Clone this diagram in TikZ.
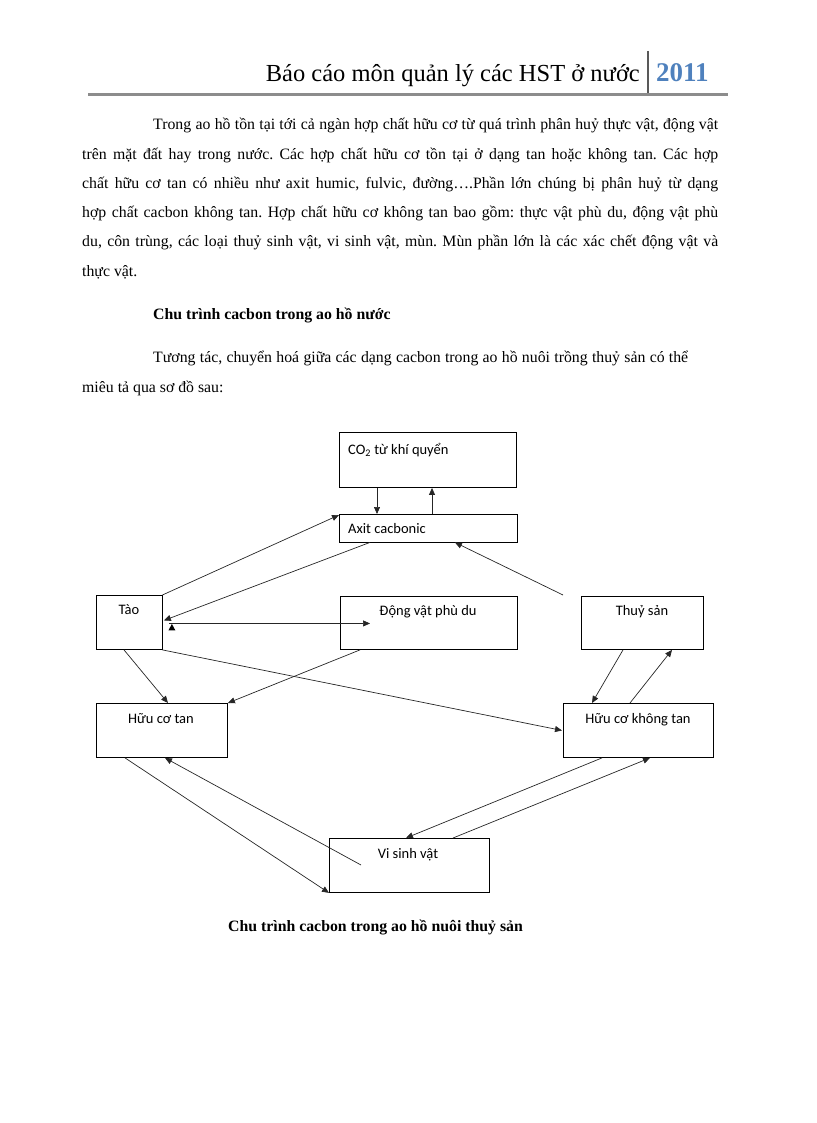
\documentclass[tikz,border=0pt]{standalone}
\usepackage{fontspec}
\setmainfont{Liberation Serif}
\newfontfamily\boxfont{Carlito}
\usetikzlibrary{arrows.meta,calc}
\definecolor{hdrblue}{HTML}{4F81BD}
\definecolor{rulegray}{HTML}{8C8C8C}
\frenchspacing
\begin{document}
\begin{tikzpicture}[x=1pt,y=-1pt,
  box/.style={draw=black,line width=0.9pt,inner sep=0pt,anchor=north west},
  boxtxt/.style={font=\boxfont\fontsize{14.5}{17}\selectfont,inner sep=0pt,anchor=base},
  bodyline/.style={font=\fontsize{15.8}{18}\selectfont,inner sep=0pt,anchor=base west},
  conn/.style={draw=black!85,line width=0.7pt},
  arr/.style={conn,-{Triangle[length=7pt,width=6pt]}}]
\useasboundingbox (0,0) rectangle (816,1123);
% header
\node[inner sep=0pt,anchor=base east,font=\fontsize{24.5}{28}\selectfont] (hdr) at (640,82) {Báo cáo môn quản lý các HST ở nước};
\node[inner sep=0pt,anchor=base west,font=\fontsize{27}{30}\selectfont\bfseries,text=hdrblue] (year) at (656,82) {2011};
\coordinate (barT) at (648,51);
\coordinate (barB) at (648,93);
\draw[line width=1.6pt,black!65] (barT) -- (barB);
\coordinate (ruleL) at (88,94.5);
\coordinate (ruleR) at (728,94.5);
\draw[line width=3pt,rulegray] (ruleL) -- (ruleR);
% paragraph
\node[bodyline] (p1) at (153,130) {\hbox to 565pt{Trong ao hồ tồn tại tới cả ngàn hợp chất hữu cơ từ quá trình phân huỷ thực vật, động vật}};
\node[bodyline] (p2) at (82,159.5) {\hbox to 636pt{trên mặt đất hay trong nước. Các hợp chất hữu cơ tồn tại ở dạng tan hoặc không tan. Các hợp}};
\node[bodyline] (p3) at (82,189) {\hbox to 636pt{chất hữu cơ tan có nhiều như axit humic, fulvic, đường….Phần lớn chúng bị phân huỷ từ dạng}};
\node[bodyline] (p4) at (82,218) {\hbox to 636pt{hợp chất cacbon không tan. Hợp chất hữu cơ không tan bao gồm: thực vật phù du, động vật phù}};
\node[bodyline] (p5) at (82,247) {\hbox to 636pt{du, côn trùng, các loại thuỷ sinh vật, vi sinh vật, mùn. Mùn phần lớn là các xác chết động vật và}};
\node[bodyline] (p6) at (82,276) {thực vật.};
\node[bodyline,font=\fontsize{15.8}{18}\selectfont\bfseries] (h1) at (153,319) {Chu trình cacbon trong ao hồ nước};
\node[bodyline] (q1) at (153,362) {\hbox to 535pt{Tương tác, chuyển hoá giữa các dạng cacbon trong ao hồ nuôi trồng thuỷ sản có thể}};
\node[bodyline] (q2) at (82,392) {miêu tả qua sơ đồ sau:};
% boxes
\node[box,minimum width=177pt,minimum height=55pt] (co2) at (339,432) {};
\node[box,minimum width=178pt,minimum height=27.5pt] (axit) at (339,514) {};
\node[box,minimum width=65.5pt,minimum height=54pt] (tao) at (96,595) {};
\node[box,minimum width=177pt,minimum height=53pt] (dvpd) at (340,596) {};
\node[box,minimum width=122pt,minimum height=53pt] (ts) at (581,596) {};
\node[box,minimum width=131pt,minimum height=54pt] (hct) at (96,703) {};
\node[box,minimum width=150pt,minimum height=54pt] (hckt) at (563,703) {};
\node[box,minimum width=160pt,minimum height=54pt] (vsv) at (329,838) {};
% box texts
\node[boxtxt,anchor=base west] (co2t) at (348,454) {CO\textsubscript{2} từ khí quyển};
\node[boxtxt,anchor=base west] (axitt) at (348,533) {Axit cacbonic};
\node[boxtxt] (taot) at (129,614) {Tào};
\node[boxtxt] (dvpdt) at (428,615) {Động vật phù du};
\node[boxtxt] (tst) at (642,615) {Thuỷ sản};
\node[boxtxt] (hctt) at (161,723) {Hữu cơ tan};
\node[boxtxt] (hcktt) at (638,723) {Hữu cơ không tan};
\node[boxtxt] (vsvt) at (408,858) {Vi sinh vật};
% connectors
\draw[arr] ($(co2.south west)+(38,0)$) -- ($(axit.north west)+(38,0)$);
\draw[arr] ($(axit.north west)+(93,0)$) -- ($(co2.south west)+(93,0)$);
\draw[arr] (tao.north east) -- ($(axit.north west)+(0,1)$);
\draw[arr] ($(axit.south west)+(31,0)$) -- ($(tao.east)+(1.5,-2)$);
\draw[arr] ($(tao.east)+(7,1)$) -- ($(dvpd.west)+(30,0.5)$);
\fill[black] ($(tao.east)+(9.5,1.5)$) -- ($(tao.east)+(13,8)$) -- ($(tao.east)+(6,8)$) -- cycle;
\coordinate (tsfree) at (563,595);
\draw[arr] (tsfree) -- ($(axit.south east)+(-63,0)$);
\draw[arr] ($(tao.south west)+(28,0)$) -- ($(hct.north west)+(72,0)$);
\draw[arr] (tao.south east) -- ($(hckt.west)+(-1,0)$);
\draw[arr] ($(dvpd.south west)+(20,0)$) -- (hct.north east);
\draw[arr] ($(ts.south west)+(42,0)$) -- ($(hckt.north west)+(29,0)$);
\draw[arr] ($(hckt.north west)+(67,0)$) -- ($(ts.south west)+(91,0)$);
\draw[arr] ($(hct.south west)+(29,0)$) -- (vsv.south west);
\coordinate (vsvfree) at (361,865);
\draw[arr] (vsvfree) -- ($(hct.south west)+(69,0)$);
\draw[arr] ($(hckt.south west)+(39,0)$) -- ($(vsv.north west)+(77,0)$);
\draw[arr] ($(vsv.north west)+(124,0)$) -- ($(hckt.south west)+(87,0)$);
% caption
\node[bodyline,font=\fontsize{15.8}{18}\selectfont\bfseries] (cap) at (228,931) {Chu trình cacbon trong ao hồ nuôi thuỷ sản};
\end{tikzpicture}
\end{document}
